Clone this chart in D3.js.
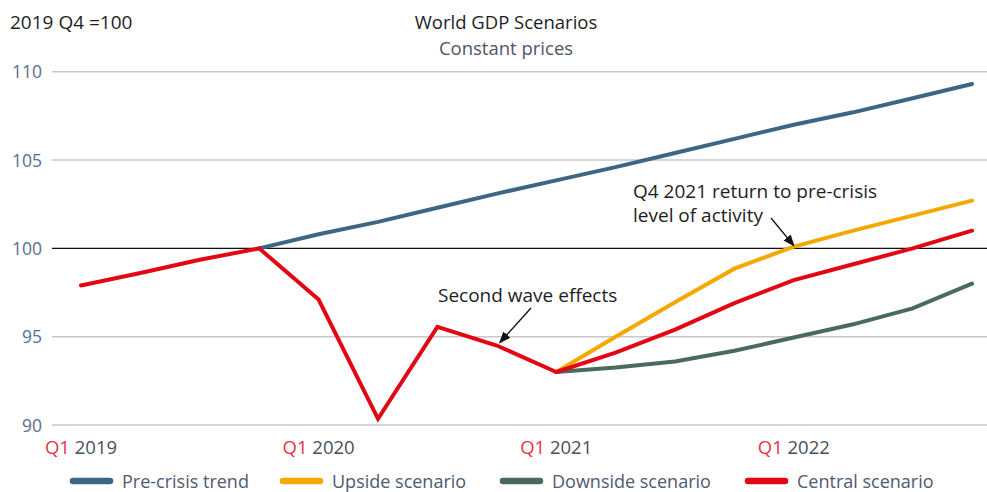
<!DOCTYPE html>
<html>
<head>
<meta charset="utf-8">
<script src="https://cdn.jsdelivr.net/npm/d3@7"></script>
<style>
  body { margin: 0; background: #fff; }
  svg text { font-family: "Open Sans", Lato, sans-serif; }
</style>
</head>
<body>
<div id="chart"></div>
<script>
// quarters Q1 2019 .. Q4 2022
const quarters = ["Q1 2019","Q2 2019","Q3 2019","Q4 2019","Q1 2020","Q2 2020","Q3 2020","Q4 2020",
                  "Q1 2021","Q2 2021","Q3 2021","Q4 2021","Q1 2022","Q2 2022","Q3 2022","Q4 2022"];
const yTicks = [90, 95, 100, 105, 110];
const xTickLabels = [["Q1", "2019"], ["Q1", "2020"], ["Q1", "2021"], ["Q1", "2022"]];
const xTickQuarters = ["Q1 2019", "Q1 2020", "Q1 2021", "Q1 2022"];

const history = [97.9, 98.6, 99.35, 100, 97.1, 90.35, 95.55, 94.5, 93.0];
const preCrisis = [null, null, null, 100, 100.8, 101.5, 102.3, 103.1, 103.85, 104.6, 105.4, 106.2, 107.0, 107.7, 108.5, 109.3];
const upside = [93.0, 95.0, 96.95, 98.85, 100.1, 101.0, 101.85, 102.7];
const central = [93.0, 94.1, 95.4, 96.9, 98.2, 99.1, 100.0, 101.0];
const downside = [93.0, 93.25, 93.6, 94.2, 94.95, 95.7, 96.6, 98.0];

const seriesNames = ["Pre-crisis trend", "Upside scenario", "Downside scenario", "Central scenario"];
const colors = { "Pre-crisis trend": "#3d6685", "Upside scenario": "#f5a800", "Downside scenario": "#4a6b5a", "Central scenario": "#e30613" };

const width = 987, height = 492;
const svg = d3.select("#chart").append("svg").attr("width", width).attr("height", height);

const x = d3.scalePoint().domain(quarters).range([81, 972]);
const y = d3.scaleLinear().domain([90, 110]).range([425, 71.7]);

// gridlines
svg.append("g").selectAll("line").data(yTicks).enter().append("line")
  .attr("x1", 52).attr("x2", width)
  .attr("y1", d => y(d)).attr("y2", d => y(d))
  .attr("stroke", d => d === 100 ? "#111" : "#c8c8c8")
  .attr("stroke-width", d => d === 100 ? 1.3 : 1.5);

// y labels
svg.append("g").selectAll("text").data(yTicks).enter().append("text")
  .attr("x", 42).attr("y", d => y(d) + 6.5)
  .attr("text-anchor", "end")
  .attr("font-size", 17.5).attr("fill", "#56708f")
  .text(d => d);

// x labels
const xl = svg.append("g").selectAll("text").data(xTickQuarters).enter().append("text")
  .attr("x", d => x(d)).attr("y", 454)
  .attr("text-anchor", "middle").attr("font-size", 18.5);
xl.append("tspan").attr("fill", "#e8334a").text((d, i) => xTickLabels[i][0]);
xl.append("tspan").attr("fill", "#4a4f5c").text((d, i) => " " + xTickLabels[i][1]);

// titles
svg.append("text").attr("x", 10).attr("y", 29).attr("font-size", 19).attr("fill", "#1e1e1e")
  .text("2019 Q4 =100");
svg.append("text").attr("x", 506).attr("y", 29).attr("text-anchor", "middle").attr("font-size", 18.5)
  .attr("fill", "#1e1e1e").text("World GDP Scenarios");
svg.append("text").attr("x", 506).attr("y", 55).attr("text-anchor", "middle").attr("font-size", 18.5)
  .attr("fill", "#4f546a").text("Constant prices");

// lines
const line = d3.line().defined(d => d.v != null).x(d => x(d.q)).y(d => y(d.v));
const toPts = (arr, offset) => arr.map((v, i) => ({ q: quarters[i + offset], v: v }));

const drawn = [
  { name: "Pre-crisis trend", pts: toPts(preCrisis, 0) },
  { name: "Downside scenario", pts: toPts(downside, 8) },
  { name: "Upside scenario", pts: toPts(upside, 8) },
  { name: "Central scenario", pts: toPts(central, 8) },
  { name: "Central scenario", pts: toPts(history, 0) }
];
svg.append("g").selectAll("path").data(drawn).enter().append("path")
  .attr("d", d => line(d.pts))
  .attr("fill", "none")
  .attr("stroke", d => colors[d.name])
  .attr("stroke-width", 4)
  .attr("stroke-linejoin", "miter")
  .attr("stroke-linecap", "round");

// annotations
svg.append("defs").append("marker")
  .attr("id", "arrow").attr("viewBox", "0 0 10 10").attr("refX", 9).attr("refY", 5)
  .attr("markerWidth", 9).attr("markerHeight", 9).attr("orient", "auto")
  .append("path").attr("d", "M0,1 L10,5 L0,9 z").attr("fill", "#111");

svg.append("text").attr("x", 438).attr("y", 302).attr("font-size", 19).attr("fill", "#1e1e1e")
  .text("Second wave effects");
svg.append("line").attr("x1", 531).attr("y1", 308).attr("x2", x("Q4 2020") + 3).attr("y2", y(94.5) - 3)
  .attr("stroke", "#111").attr("stroke-width", 1.3).attr("marker-end", "url(#arrow)");

svg.append("text").attr("x", 633).attr("y", 198).attr("font-size", 19).attr("fill", "#1e1e1e")
  .text("Q4 2021 return to pre-crisis");
svg.append("text").attr("x", 633).attr("y", 222).attr("font-size", 19).attr("fill", "#1e1e1e")
  .text("level of activity");
svg.append("line").attr("x1", 771).attr("y1", 218).attr("x2", x("Q1 2022")).attr("y2", y(100.1) - 1)
  .attr("stroke", "#111").attr("stroke-width", 1.3).attr("marker-end", "url(#arrow)");

// legend
const legendX = [70, 280, 500, 745];
const lg = svg.append("g").selectAll("g").data(seriesNames).enter().append("g")
  .attr("transform", (d, i) => `translate(${legendX[i]},481)`);
lg.append("line").attr("x1", 3).attr("x2", 40).attr("y1", 0).attr("y2", 0)
  .attr("stroke", d => colors[d]).attr("stroke-width", 6.5).attr("stroke-linecap", "round");
lg.append("text").attr("x", 52).attr("y", 6.5).attr("font-size", 18).attr("fill", "#4f5a70").text(d => d);
</script>
</body>
</html>
